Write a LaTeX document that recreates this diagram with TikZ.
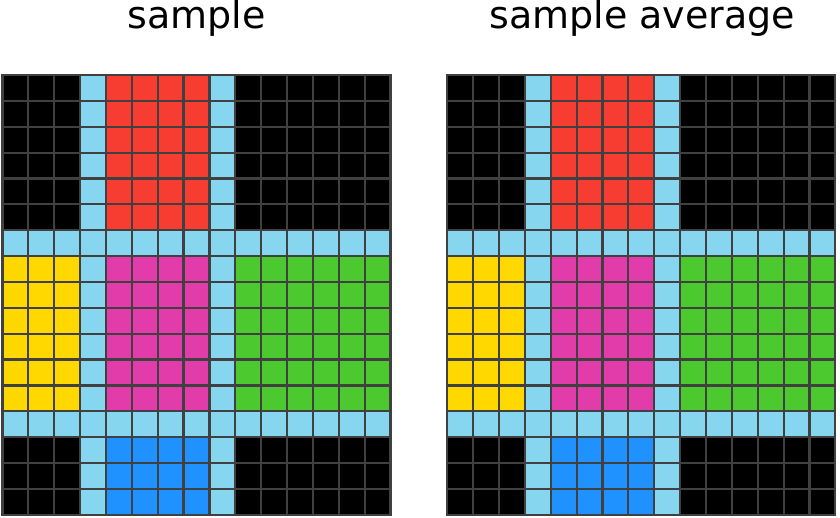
\documentclass[tikz,border=0pt]{standalone}
\usepackage{fontspec}
\setmainfont{DejaVu Sans}
\definecolor{cblack}{HTML}{000000}
\definecolor{clb}{HTML}{87D6F0}
\definecolor{cred}{HTML}{F73C32}
\definecolor{cyel}{HTML}{FFD800}
\definecolor{cmag}{HTML}{E23CAA}
\definecolor{cgrn}{HTML}{4DC930}
\definecolor{cblu}{HTML}{2092FF}
\definecolor{cline}{HTML}{404040}
\tikzset{
  gl/.style={draw=cline, line width=2.2pt},
  title/.style={font=\fontsize{38}{46}\selectfont, anchor=base, inner sep=0pt}
}
\newcommand\mygrid[1]{%
  \begin{scope}[shift={(#1,75)}]
    \def\s{25.87}
    % top band
    \fill[cblack] (0,0) rectangle (3*\s,6*\s);
    \fill[clb] (3*\s,0) rectangle (4*\s,6*\s);
    \fill[cred] (4*\s,0) rectangle (8*\s,6*\s);
    \fill[clb] (8*\s,0) rectangle (9*\s,6*\s);
    \fill[cblack] (9*\s,0) rectangle (15*\s,6*\s);
    % row 6
    \fill[clb] (0,6*\s) rectangle (15*\s,7*\s);
    % middle band
    \fill[cyel] (0,7*\s) rectangle (3*\s,13*\s);
    \fill[clb] (3*\s,7*\s) rectangle (4*\s,13*\s);
    \fill[cmag] (4*\s,7*\s) rectangle (8*\s,13*\s);
    \fill[clb] (8*\s,7*\s) rectangle (9*\s,13*\s);
    \fill[cgrn] (9*\s,7*\s) rectangle (15*\s,13*\s);
    % row 13
    \fill[clb] (0,13*\s) rectangle (15*\s,14*\s);
    % bottom band
    \fill[cblack] (0,14*\s) rectangle (3*\s,17*\s);
    \fill[clb] (3*\s,14*\s) rectangle (4*\s,17*\s);
    \fill[cblu] (4*\s,14*\s) rectangle (8*\s,17*\s);
    \fill[clb] (8*\s,14*\s) rectangle (9*\s,17*\s);
    \fill[cblack] (9*\s,14*\s) rectangle (15*\s,17*\s);
    \foreach \i in {1,...,14} \draw[gl] (\i*\s,0) -- (\i*\s,17*\s);
    \foreach \j in {1,...,16} \draw[gl] (0,\j*\s) -- (15*\s,\j*\s);
    \draw[gl] (0,0) rectangle (15*\s,17*\s);
  \end{scope}%
}
\begin{document}
\begin{tikzpicture}[x=1pt,y=-1pt]
\useasboundingbox (0,0) rectangle (840,517);
\mygrid{2.5}
\mygrid{447.3}
\node[title] (tleft) at (196.5,28.5) {sample};
\node[title] (tright) at (642.3,28.5) {sample average};
\end{tikzpicture}
\end{document}
